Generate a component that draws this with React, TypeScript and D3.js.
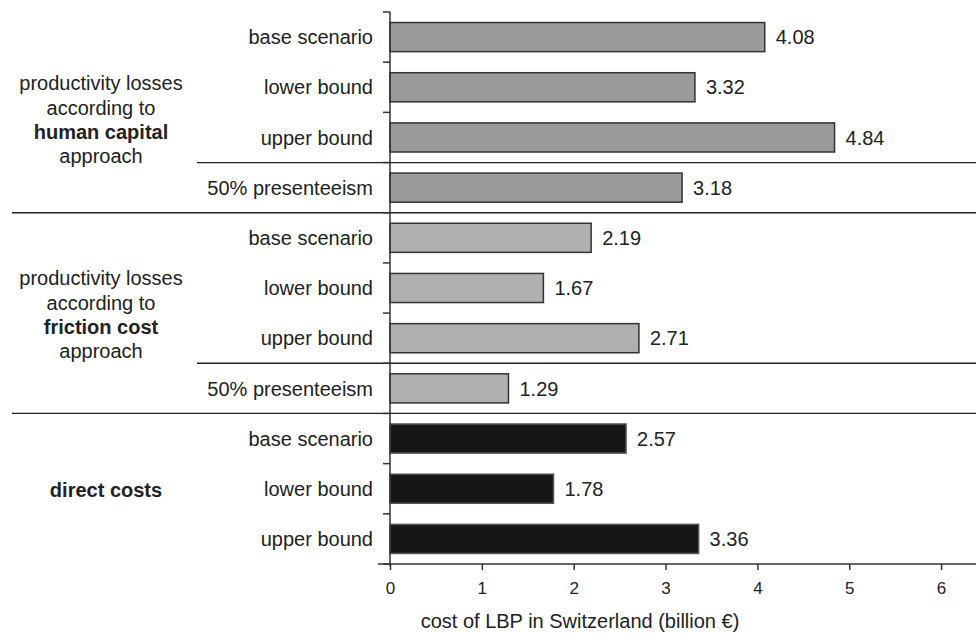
import { useEffect, useRef } from 'react';
import * as d3 from 'd3';

const rowLabels = [
  "base scenario", "lower bound", "upper bound", "50% presenteeism",
  "base scenario", "lower bound", "upper bound", "50% presenteeism",
  "base scenario", "lower bound", "upper bound",
];
const values = [4.08, 3.32, 4.84, 3.18, 2.19, 1.67, 2.71, 1.29, 2.57, 1.78, 3.36];
const rowGroup = [0, 0, 0, 0, 1, 1, 1, 1, 2, 2, 2];
const groupColors = ["#9a9a9a", "#b0b0b0", "#161616"];
const xTicks = [0, 1, 2, 3, 4, 5, 6];

// group captions: [text, bold]
const groupCaptions: [string, boolean][][] = [
  [["productivity losses", false], ["according to", false], ["human capital", true], ["approach", false]],
  [["productivity losses", false], ["according to", false], ["friction cost", true], ["approach", false]],
  [["direct costs", true]],
];
// separators after these row indexes; "short" ones start at the row-label column
const separators: { after: number; short: boolean }[] = [
  { after: 2, short: true },
  { after: 3, short: false },
  { after: 6, short: true },
  { after: 7, short: false },
];

const FONT = "'Liberation Sans', Arial, Helvetica, sans-serif";

export default function App() {
  const svgRef = useRef<SVGSVGElement>(null);

  useEffect(() => {
    if (!svgRef.current) return;
    document.body.style.margin = "0";

    const width = 976;
    const height = 638;
    const svg = d3.select(svgRef.current);
    svg.selectAll("*").remove();
    svg.attr("width", width).attr("height", height).style("font-family", FONT);

    const axisX = 390;
    const top = 12;
    const bottom = 564;

    const x = d3.scaleLinear().domain([0, 6.38]).range([axisX, width]);
    const y = d3
      .scaleBand<number>()
      .domain(d3.range(values.length))
      .range([top, bottom])
      .paddingInner(0.42)
      .paddingOuter(0.21);
    const step = y.step();
    const boundary = (i: number) => (y(i) as number) - step * 0.21;

    // separators
    separators.forEach(s => {
      const yy = boundary(s.after + 1);
      svg.append("line")
        .attr("x1", s.short ? 197 : 12)
        .attr("x2", width)
        .attr("y1", yy)
        .attr("y2", yy)
        .attr("stroke", "#222")
        .attr("stroke-width", 1.3);
    });

    // bars
    svg.selectAll(".bar")
      .data(values)
      .enter().append("rect")
      .attr("class", "bar")
      .attr("x", x(0))
      .attr("y", (_, i) => y(i) as number)
      .attr("width", d => x(d) - x(0))
      .attr("height", y.bandwidth())
      .attr("fill", (_, i) => groupColors[rowGroup[i]])
      .attr("stroke", (_, i) => rowGroup[i] === 2 ? "#555" : "#333")
      .attr("stroke-width", 1.5);

    // value labels
    svg.selectAll(".val")
      .data(values)
      .enter().append("text")
      .attr("class", "val")
      .attr("x", d => x(d) + 11)
      .attr("y", (_, i) => (y(i) as number) + y.bandwidth() / 2)
      .attr("dy", "0.36em")
      .style("font-size", "20px")
      .style("fill", "#222")
      .text(d => d.toFixed(2));

    // row labels
    svg.selectAll(".row")
      .data(rowLabels)
      .enter().append("text")
      .attr("class", "row")
      .attr("x", 373)
      .attr("y", (_, i) => (y(i) as number) + y.bandwidth() / 2)
      .attr("dy", "0.36em")
      .attr("text-anchor", "end")
      .style("font-size", "20px")
      .style("fill", "#222")
      .text(d => d);

    // group captions
    const captionTop = [83, 278, 490];
    const captionX = [101, 101, 106];
    groupCaptions.forEach((lines, g) => {
      lines.forEach(([t, bold], k) => {
        svg.append("text")
          .attr("x", captionX[g])
          .attr("y", captionTop[g] + k * 24.3)
          .attr("dy", "0.36em")
          .attr("text-anchor", "middle")
          .style("font-size", "20px")
          .style("font-weight", bold ? "bold" : "normal")
          .style("fill", "#222")
          .text(t);
      });
    });

    // y axis with ticks at band boundaries
    svg.append("line")
      .attr("x1", axisX).attr("x2", axisX)
      .attr("y1", top).attr("y2", bottom + 2)
      .attr("stroke", "#333").attr("stroke-width", 1.5);
    svg.selectAll(".ytick")
      .data(d3.range(values.length + 1))
      .enter().append("line")
      .attr("class", "ytick")
      .attr("x1", axisX - 7).attr("x2", axisX)
      .attr("y1", i => i < values.length ? boundary(i) : bottom)
      .attr("y2", i => i < values.length ? boundary(i) : bottom)
      .attr("stroke", "#333").attr("stroke-width", 1.5);

    // x axis
    const xAxis = svg.append("g")
      .attr("transform", `translate(0,${bottom})`)
      .call(d3.axisBottom(x).tickValues(xTicks).tickFormat(d3.format("d")).tickSize(6).tickPadding(12) as any);
    xAxis.select(".domain")
      .attr("d", `M${axisX - 12},0H${width}`)
      .attr("stroke", "#333").attr("stroke-width", 1.5);
    xAxis.selectAll(".tick line").attr("stroke", "#333").attr("stroke-width", 1.5);
    xAxis.selectAll(".tick text")
      .style("font-size", "17px")
      .style("font-family", FONT)
      .style("fill", "#222");

    svg.append("text")
      .attr("x", 580)
      .attr("y", 628)
      .attr("text-anchor", "middle")
      .style("font-size", "20px")
      .style("fill", "#222")
      .text("cost of LBP in Switzerland (billion €)");
  }, []);

  return <svg ref={svgRef} style={{ display: "block" }}></svg>;
}
